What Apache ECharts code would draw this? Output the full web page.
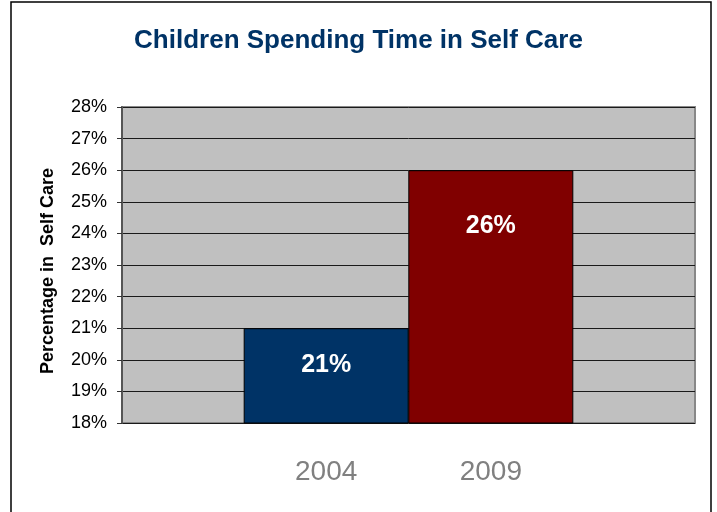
<!DOCTYPE html>
<html>
<head>
<meta charset="utf-8">
<script src="https://cdn.jsdelivr.net/npm/echarts@6/dist/echarts.min.js"></script>
<style>
  html, body { margin: 0; padding: 0; background: #fff; }
  #main { width: 717px; height: 512px; }
</style>
</head>
<body>
<div id="main"></div>
<script>
var years = [2004, 2009];
var percentages = [21, 26];
var barColors = ['#003366', '#800000'];
// where the value label sits inside each bar (fraction of bar height from top)
var labelOffsets = ['39%', '22%'];

var chart = echarts.init(document.getElementById('main'));

var barData = years.map(function(y, i) {
  return {
    value: [y, percentages[i]],
    itemStyle: { color: barColors[i] },
    label: { position: ['50%', labelOffsets[i]] }
  };
});

var option = {
  backgroundColor: '#ffffff',
  textStyle: { fontFamily: 'Liberation Sans, Arial, sans-serif' },
  title: {
    text: 'Children Spending Time in Self Care',
    left: 'center',
    top: 23,
    textStyle: {
      color: '#003366',
      fontSize: 26,
      fontWeight: 'bold',
      fontFamily: 'Liberation Sans, Arial, sans-serif'
    }
  },
  graphic: [{
    type: 'rect',
    shape: { x: 11, y: 2, width: 700, height: 530 },
    style: { fill: null, stroke: '#000', lineWidth: 1.5 },
    silent: true
  }],
  grid: {
    left: 122,
    right: 22,
    top: 107,
    bottom: 89,
    show: true,
    backgroundColor: '#c0c0c0',
    borderColor: '#888888',
    borderWidth: 2
  },
  xAxis: {
    type: 'value',
    min: 1997.8,
    max: 2015.2,
    splitLine: { show: false },
    axisLine: { show: false },
    axisTick: { show: false },
    axisLabel: {
      customValues: years,
      formatter: function(v) { return String(v); },
      color: '#808080',
      fontSize: 28,
      margin: 35
    }
  },
  yAxis: {
    type: 'value',
    min: 18,
    max: 28,
    interval: 1,
    name: 'Percentage in  Self Care',
    nameLocation: 'middle',
    nameGap: 65,
    nameTextStyle: {
      fontSize: 18,
      fontWeight: 'bold',
      color: '#000',
      padding: [0, 0, 0, -12]
    },
    axisLine: { show: true, lineStyle: { color: '#555', width: 2 } },
    axisTick: { show: true, length: 5, lineStyle: { color: '#333' } },
    axisLabel: {
      formatter: '{value}%',
      color: '#000',
      fontSize: 18,
      margin: 15
    },
    splitLine: { lineStyle: { color: '#1a1a1a', width: 1 } }
  },
  series: [{
    type: 'bar',
    barWidth: 165,
    data: barData,
    itemStyle: { borderColor: '#000', borderWidth: 1 },
    label: {
      show: true,
      formatter: function(p) { return p.value[1] + '%'; },
      color: '#fff',
      fontSize: 25,
      fontWeight: 'bold',
      align: 'center',
      verticalAlign: 'middle'
    }
  }]
};

chart.setOption(option);
</script>
</body>
</html>
